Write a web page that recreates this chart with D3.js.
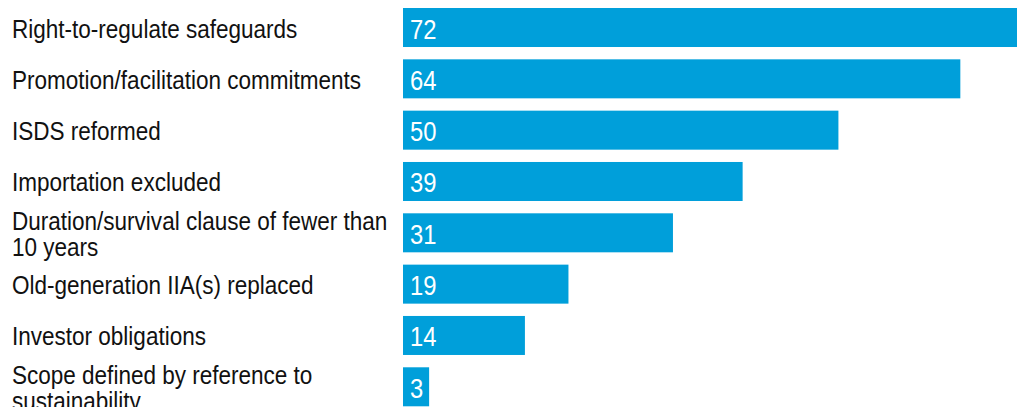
<!DOCTYPE html>
<html>
<head>
<meta charset="utf-8">
<script src="https://cdn.jsdelivr.net/npm/d3@7"></script>
<style>
  html, body { margin: 0; padding: 0; background: #fff; }
  svg { display: block; }
  .label { font-family: "Liberation Sans", Arial, sans-serif; font-size: 26.5px; fill: #111; }
  .value { font-family: "Liberation Sans", Arial, sans-serif; font-size: 28px; fill: #fff; }
</style>
</head>
<body>
<svg id="chart" width="1017" height="407"></svg>
<script>
// Features found in recent IIAs (number of treaties)
const categories = [
  "Right-to-regulate safeguards",
  "Promotion/facilitation commitments",
  "ISDS reformed",
  "Importation excluded",
  "Duration/survival clause of fewer than 10 years",
  "Old-generation IIA(s) replaced",
  "Investor obligations",
  "Scope defined by reference to sustainability"
];
const counts = [72, 64, 50, 39, 31, 19, 14, 3];

const barLeft = 403;
const labelLeft = 12;
const labelMaxWidth = 388;
const lineHeight = 26;
const narrow = 0.85; // horizontal squeeze for a condensed look

const svg = d3.select("#chart");

const x = d3.scaleLinear().domain([0, 72]).range([barLeft, 1030]);
const y = d3.scaleBand().domain(categories).range([8, 406.3]).paddingInner(0.24).paddingOuter(0);

const rows = svg.selectAll("g.row")
  .data(categories.map((c, i) => ({ cat: c, val: counts[i] })))
  .join("g")
  .attr("class", "row");

rows.append("rect")
  .attr("x", x(0))
  .attr("y", d => y(d.cat))
  .attr("width", d => x(d.val) - x(0))
  .attr("height", y.bandwidth())
  .attr("fill", "#009fda");

rows.append("text")
  .attr("class", "value")
  .attr("transform", d => `translate(${x(0) + 7},${y(d.cat) + y.bandwidth() / 2 + 11}) scale(${narrow},1)`)
  .text(d => d.val);

// Category labels, wrapped to the space left of the bars
rows.each(function(d) {
  const g = d3.select(this);
  const cy = y(d.cat) + y.bandwidth() / 2;
  const t = g.append("text").attr("class", "label");
  const words = d.cat.split(" ");
  const lines = [];
  let line = [];
  const probe = t.append("tspan");
  for (const w of words) {
    line.push(w);
    probe.text(line.join(" "));
    if (probe.node().getComputedTextLength() * narrow > labelMaxWidth && line.length > 1) {
      line.pop();
      lines.push(line.join(" "));
      line = [w];
    }
  }
  lines.push(line.join(" "));
  probe.remove();
  const first = cy + 10 - (lines.length - 1) * lineHeight / 2;
  t.attr("transform", `translate(${labelLeft},${first}) scale(${narrow},1)`);
  lines.forEach((s, i) => {
    t.append("tspan").attr("x", 0).attr("y", i * lineHeight).text(s);
  });
});
</script>
</body>
</html>
